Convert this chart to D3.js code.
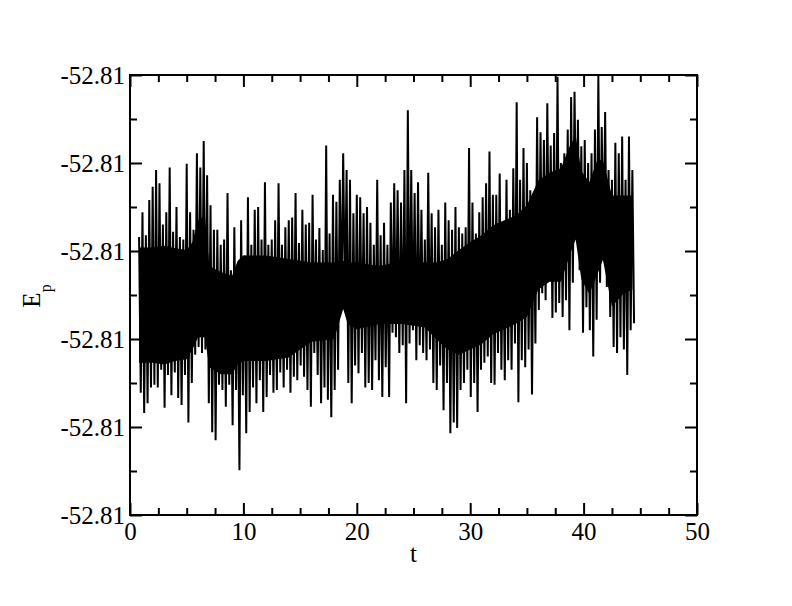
<!DOCTYPE html>
<html>
<head>
<meta charset="utf-8">
<script src="https://cdn.jsdelivr.net/npm/d3@7/dist/d3.min.js"></script>
<style>
  html, body { margin: 0; padding: 0; background: #fff; }
  svg { display: block; }
  text { font-family: "Liberation Serif", "DejaVu Serif", serif; fill: #000; }
</style>
</head>
<body>
<svg id="chart" width="792" height="606"></svg>
<script>
// ---- data ----
const eBase = -52.8125;          // energy at the bottom of the axis
const eUnit = 1e-4;              // units of the values below
const tStart = 0.8;              // time of first sample
const tStep = 0.3;               // time between successive upper samples
// upper samples of E_p (in eUnit above eBase)
const epHigh = [31.6,34.4,31.8,35.8,37.3,39.2,37.7,33.0,34.4,39.5,
  32.2,35.0,31.6,31.3,39.9,34.4,32.4,41.1,39.5,42.5,
  38.6,35.2,32.4,32.4,30.7,31.3,36.6,27.8,32.7,28.4,
  33.5,29.5,36.1,30.7,34.7,35.0,31.3,37.8,30.7,31.3,
  33.5,37.7,30.7,32.7,33.5,33.8,36.6,30.9,34.7,33.0,
  33.2,36.4,31.3,32.6,30.1,42.0,32.0,36.4,35.6,38.1,
  41.1,39.2,38.1,34.3,36.4,36.1,34.3,35.0,33.2,30.7,
  38.1,31.8,33.2,30.7,35.5,37.7,36.9,35.5,39.2,46.0,
  39.2,36.6,37.8,34.7,31.3,38.9,34.3,32.7,34.7,30.7,
  35.5,33.5,32.4,35.0,32.7,32.0,32.7,41.7,35.5,32.0,
  34.4,36.1,37.7,41.3,36.4,36.4,38.8,32.4,38.1,34.7,
  39.4,46.9,38.1,41.7,40.0,36.9,36.6,45.2,43.5,42.6,
  46.8,42.0,43.4,49.8,40.0,41.1,43.8,47.5,48.1,44.9,
  41.9,42.6,40.0,41.1,43.8,49.9,44.1,45.8,39.2,38.1,
  42.3,41.1,43.0,38.1,43.0,39.2];
// lower samples of E_p (half a step after each upper one)
const epLow = [13.9,11.6,12.7,14.5,14.8,14.5,16.5,12.2,15.9,13.6,
  16.2,13.3,12.5,15.9,10.5,15.0,18.2,19.1,18.4,18.8,
  12.7,9.4,8.5,14.8,14.2,12.3,14.8,10.2,14.2,5.1,
  13.6,9.3,11.7,14.5,12.7,15.3,11.7,13.4,15.9,13.9,
  14.2,16.2,14.5,16.5,13.9,15.7,15.3,17.0,15.7,14.2,
  12.3,18.4,15.9,12.7,14.5,13.1,11.1,14.2,16.5,24.4,
  24.1,15.0,12.7,17.0,16.1,18.4,14.5,15.0,14.2,17.6,
  15.3,13.4,16.8,13.4,20.7,20.2,18.4,19.3,12.7,19.5,
  21.0,17.6,19.3,18.4,17.6,18.8,15.0,14.2,17.0,11.9,
  15.0,9.3,10.5,9.9,14.2,15.0,16.5,13.4,15.0,11.7,
  16.5,17.3,18.0,15.0,14.8,18.4,16.5,15.3,17.6,16.5,
  19.5,12.8,17.6,16.8,18.8,13.7,19.5,23.3,25.2,24.4,
  27.0,22.4,23.0,24.1,22.5,24.4,21.0,26.4,31.5,27.8,
  20.7,23.6,21.0,18.0,22.2,26.4,29.9,25.9,22.5,19.1,
  18.4,20.2,18.8,15.9,21.0,21.8];

// densely filled core of the trace (where the oscillation is solid black)
const coreT      = [0.8, 2, 3, 4, 5, 5.5, 6, 6.6, 7.0, 8, 9, 9.5, 10, 12, 14, 15, 16, 18, 18.8, 19.2,
                    20, 22, 24, 26, 27, 28, 29, 30, 31, 32, 33, 34, 35, 36, 37, 38, 38.8, 39.3, 39.8,
                    40.5, 41.2, 41.7, 42.5, 43.5, 44.3];
const coreTop    = [30.4, 30.4, 30.6, 30.3, 30.1, 31.0, 33.5, 34.0, 28.3, 27.6, 27.2, 28.9, 29.5, 29.5, 29.1, 28.9, 28.7, 28.7, 28.9, 28.7,
                    28.7, 28.3, 28.9, 28.7, 28.7, 29.1, 30.1, 31.0, 31.8, 32.9, 33.5, 34.0, 35.2, 38.0, 38.9, 39.4, 42.0, 43.1, 39.1,
                    37.8, 40.3, 40.3, 36.3, 36.3, 36.3];
const coreBottom = [17.3, 17.3, 17.1, 17.5, 17.7, 18.8, 20.2, 20.2, 16.8, 16.0, 16.0, 17.1, 17.5, 17.5, 17.9, 18.8, 19.7, 20.0, 23.4, 21.7,
                    21.1, 21.7, 21.7, 21.3, 20.0, 18.8, 18.2, 18.8, 19.4, 20.5, 21.1, 21.7, 22.5, 25.6, 26.5, 26.5, 29.6, 31.3, 26.8,
                    25.1, 27.3, 29.0, 23.7, 25.1, 25.6];

const xMajorTicks = [0, 10, 20, 30, 40, 50];
const xMinorTicks = [2.5, 5, 7.5, 12.5, 15, 17.5, 22.5, 25, 27.5, 32.5, 35, 37.5, 42.5, 45, 47.5];
const yMajorTicks = [-52.8125, -52.8115, -52.8105, -52.8095, -52.8085, -52.8075];
const yMinorTicks = [-52.8120, -52.8110, -52.8100, -52.8090, -52.8080];
const xLabel = "t";
const yLabelMain = "E";
const yLabelSub = "p";

// ---- build series ----
const series = [];
epHigh.forEach((h, i) => {
  series.push({ t: tStart + i * tStep, e: eBase + h * eUnit });
  if (i < epLow.length) series.push({ t: tStart + i * tStep + tStep / 2, e: eBase + epLow[i] * eUnit });
});
const core = coreT.map((t, i) => ({ t, top: eBase + coreTop[i] * eUnit, bot: eBase + coreBottom[i] * eUnit }));

// ---- layout ----
const L = 130, R = 697, T = 75, B = 515;
const svg = d3.select("#chart");
const x = d3.scaleLinear().domain([0, 50]).range([L, R]);
const y = d3.scaleLinear().domain([-52.8125, -52.8075]).range([B, T]);
const fmt = d => d.toFixed(2);
const FS = 25;

svg.append("clipPath").attr("id", "clip")
  .append("rect").attr("x", L).attr("y", T).attr("width", R - L).attr("height", B - T);

const plot = svg.append("g").attr("clip-path", "url(#clip)");

plot.append("path")
  .datum(core)
  .attr("fill", "#000")
  .attr("stroke", "none")
  .attr("d", d3.area().x(d => x(d.t)).y0(d => y(d.bot)).y1(d => y(d.top)));

plot.append("path")
  .datum(series)
  .attr("fill", "none")
  .attr("stroke", "#000")
  .attr("stroke-width", 2)
  .attr("stroke-linejoin", "bevel")
  .attr("d", d3.line().x(d => x(d.t)).y(d => y(d.e)));

function styleAxis(g) {
  g.select(".domain").remove();
  g.selectAll(".tick line").attr("stroke", "#000").attr("stroke-width", 2);
  g.selectAll(".tick text").style("font-family", "'Liberation Serif', serif").style("font-size", FS + "px").attr("fill", "#000");
}

// bottom axis
svg.append("g").attr("transform", `translate(0,${B})`)
  .call(d3.axisBottom(x).tickValues(xMajorTicks).tickSize(-12).tickPadding(7).tickFormat(d3.format("d")))
  .call(styleAxis);
svg.append("g").attr("transform", `translate(0,${B})`)
  .call(d3.axisBottom(x).tickValues(xMinorTicks).tickSize(-7).tickFormat(""))
  .call(styleAxis);
// top axis (mirrored ticks)
svg.append("g").attr("transform", `translate(0,${T})`)
  .call(d3.axisTop(x).tickValues(xMajorTicks).tickSize(-12).tickFormat(""))
  .call(styleAxis);
svg.append("g").attr("transform", `translate(0,${T})`)
  .call(d3.axisTop(x).tickValues(xMinorTicks).tickSize(-7).tickFormat(""))
  .call(styleAxis);
// left axis
svg.append("g").attr("transform", `translate(${L},0)`)
  .call(d3.axisLeft(y).tickValues(yMajorTicks).tickSize(-12).tickPadding(5).tickFormat(fmt))
  .call(styleAxis);
svg.append("g").attr("transform", `translate(${L},0)`)
  .call(d3.axisLeft(y).tickValues(yMinorTicks).tickSize(-7).tickFormat(""))
  .call(styleAxis);
// right axis (mirrored ticks)
svg.append("g").attr("transform", `translate(${R},0)`)
  .call(d3.axisRight(y).tickValues(yMajorTicks).tickSize(-12).tickFormat(""))
  .call(styleAxis);
svg.append("g").attr("transform", `translate(${R},0)`)
  .call(d3.axisRight(y).tickValues(yMinorTicks).tickSize(-7).tickFormat(""))
  .call(styleAxis);

// frame
svg.append("rect")
  .attr("x", L).attr("y", T).attr("width", R - L).attr("height", B - T)
  .attr("fill", "none").attr("stroke", "#000").attr("stroke-width", 2);

// axis titles
svg.append("text")
  .attr("x", (L + R) / 2).attr("y", 562)
  .attr("text-anchor", "middle")
  .style("font-size", FS + "px")
  .text(xLabel);

const yl = svg.append("text")
  .attr("transform", "translate(40,296) rotate(-90)")
  .attr("text-anchor", "middle")
  .style("font-size", FS + "px");
yl.append("tspan").text(yLabelMain);
yl.append("tspan").attr("dy", 11).style("font-size", "16px").text(yLabelSub);
</script>
</body>
</html>
